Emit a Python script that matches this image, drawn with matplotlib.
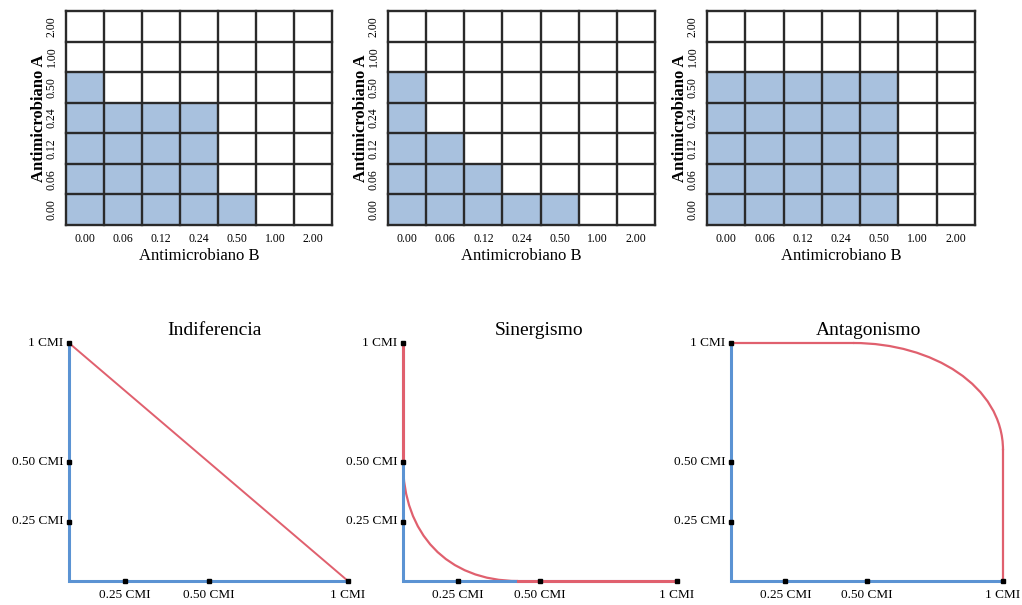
import matplotlib.pyplot as plt
from matplotlib.path import Path
from matplotlib.patches import PathPatch

plt.rcParams['font.family'] = ['Liberation Serif', 'DejaVu Serif']

W, H = 1022, 605

conc = ["0.00", "0.06", "0.12", "0.24", "0.50", "1.00", "2.00"]
# shaded rows (no growth) counted from the bottom, one value per column of antimicrobiano B
filled_indif = [5, 4, 4, 4, 1, 0, 0]
filled_sinerg = [5, 3, 2, 1, 1, 0, 0]
filled_antag = [5, 5, 5, 5, 5, 0, 0]

titles = ["Indiferencia", "Sinergismo", "Antagonismo"]
cmi_y = [0.25, 0.50, 1.0]
cmi_ylabels = ["0.25 CMI", "0.50 CMI", "1 CMI"]
cmi_x = [0.2, 0.5, 1.0]
cmi_xlabels = ["0.25 CMI", "0.50 CMI", "1 CMI"]

# isobologram curves:
# straight pieces as point lists, rounded pieces as cubic Bezier control points
indif_x = [0.0, 1.0]
indif_y = [1.0, 0.0]

sinerg_top_x = [0.0, 0.0]
sinerg_top_y = [1.0, 0.5]
sinerg_bend = [(0.0, 0.5), (0.0, 0.2), (0.16, 0.0), (0.42, 0.0)]
sinerg_low_x = [0.42, 1.0]
sinerg_low_y = [0.0, 0.0]

antag_top_x = [0.0, 0.45]
antag_top_y = [1.0, 1.0]
antag_bend = [(0.45, 1.0), (0.74, 1.0), (1.0, 0.82), (1.0, 0.55)]
antag_low_x = [1.0, 1.0]
antag_low_y = [0.55, 0.0]

BLUE_FILL = "#a8c1de"
AXIS_BLUE = "#5b93d3"
RED = "#e0606e"


def px_axes(fig, left, top, right, bottom):
    return fig.add_axes([left / W, 1 - bottom / H, (right - left) / W, (bottom - top) / H])


def bezier(ax, pts, lw):
    path = Path(pts, [Path.MOVETO, Path.CURVE4, Path.CURVE4, Path.CURVE4])
    ax.add_patch(PathPatch(path, fill=False, edgecolor=RED, lw=lw, clip_on=False))


fig = plt.figure(figsize=(W / 100, H / 100), dpi=100)

# ---- checkerboard grids ----
grid_pos = [(66, 11, 332, 225), (388, 11, 655, 225), (707, 11, 975, 225)]
for (l, t, r, b), filled in zip(grid_pos, [filled_indif, filled_sinerg, filled_antag]):
    ax = px_axes(fig, l, t, r, b)
    ax.bar(range(len(conc)), filled, width=1, align='edge', color=BLUE_FILL, lw=0)
    for i in range(len(conc) + 1):
        ax.axvline(i, color='#2a2a2a', lw=1.7, clip_on=False)
        ax.axhline(i, color='#2a2a2a', lw=1.7, clip_on=False)
    ax.set_xlim(0, len(conc))
    ax.set_ylim(0, len(conc))
    ax.set_xticks([i + 0.5 for i in range(len(conc))])
    ax.set_xticklabels(conc, fontsize=8.5)
    ax.set_yticks([i + 0.5 for i in range(len(conc))])
    ax.set_yticklabels(conc, fontsize=8.5, rotation=90, va='center')
    ax.tick_params(length=0, pad=6)
    for s in ax.spines.values():
        s.set_visible(False)
    ax.set_xlabel("Antimicrobiano B", fontsize=12, labelpad=2)
    ax.set_ylabel("Antimicrobiano A", fontsize=12, fontweight='bold', labelpad=-1)

# ---- isobolograms ----
iso_pos = [(69, 343, 348, 581), (403, 343, 677, 581), (731, 343, 1003, 581)]
title_x = [0.523, 0.496, 0.507]
for k, (l, t, r, b) in enumerate(iso_pos):
    ax = px_axes(fig, l, t, r, b)
    ax.set_xlim(0, 1)
    ax.set_ylim(0, 1)
    ax.axis('off')
    ax.plot([0, 0, 1], [1, 0, 0], color=AXIS_BLUE, lw=2.2, clip_on=False, solid_joinstyle='miter')
    if k == 0:
        ax.plot(indif_x, indif_y, color=RED, lw=1.4, clip_on=False)
    elif k == 1:
        ax.plot(sinerg_top_x, sinerg_top_y, color=RED, lw=2.2, clip_on=False)
        bezier(ax, sinerg_bend, 1.6)
        ax.plot(sinerg_low_x, sinerg_low_y, color=RED, lw=2.2, clip_on=False)
    else:
        ax.plot(antag_top_x, antag_top_y, color=RED, lw=1.6, clip_on=False)
        bezier(ax, antag_bend, 1.6)
        ax.plot(antag_low_x, antag_low_y, color=RED, lw=1.6, clip_on=False)
    ax.plot([0] * len(cmi_y), cmi_y, 's', color='black', ms=3, clip_on=False, zorder=5)
    ax.plot(cmi_x, [0] * len(cmi_x), 's', color='black', ms=3, clip_on=False, zorder=5)
    for yv, lab in zip(cmi_y, cmi_ylabels):
        ax.annotate(lab, (0, yv), xytext=(-4, 0), textcoords='offset points',
                    ha='right', va='center', fontsize=9.5)
    for xv, lab in zip(cmi_x, cmi_xlabels):
        ax.annotate(lab, (xv, 0), xytext=(0, -6), textcoords='offset points',
                    ha='center', va='top', fontsize=9.5)
    ax.text(title_x[k], 1.034, titles[k], transform=ax.transAxes,
            ha='center', va='baseline', fontsize=14)

fig.savefig("out.png", dpi=100)
